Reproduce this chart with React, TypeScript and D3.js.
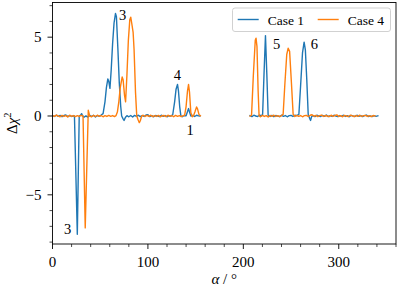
import React from 'react'
import * as d3 from 'd3'

const WIDTH = 399
const HEIGHT = 291
const PLOT = { left: 52.5, right: 396, top: 2.5, bottom: 244 }
const FONT = '"Liberation Serif", "Times New Roman", serif'
const BLUE = '#1f77b4'
const ORANGE = '#ff7f0e'

// [alpha in degrees, delta chi^2]; null marks the gap between the scans
const case1: [number, number | null][] = [
  [0, 0.02], [2, -0.03], [4, 0.05], [6, -0.02], [8, 0.04], [10, -0.05], [12, 0.03], [14, 0.06],
  [16, -0.04], [18, 0.02], [20, -0.03], [22, 0.01], [23, 0.0], [26, -7.5], [28, 0.0], [29.5, 0.05],
  [30.5, 0.15], [31.5, 0.02], [33, -0.08], [35, 0.01], [37, -0.07], [39, 0.04], [41, -0.03], [43, 0.05],
  [45, -0.06], [47, 0.03], [49, -0.02], [51, 0.06], [53, 0.15], [55, 0.9], [56.5, 1.8], [58, 2.35],
  [59, 2.2], [60.2, 1.75], [61.5, 2.9], [63, 4.6], [64.5, 5.9], [66, 6.5], [67, 6.3], [68.5, 4.3],
  [70, 2.1], [71.5, 0.6], [72.5, 0.0], [74, -0.18], [75, -0.28], [76.5, -0.08], [78, 0.02], [80, -0.05],
  [82, 0.03], [84, -0.06], [86, 0.04], [88, -0.02], [90, 0.05], [92, -0.04], [94, 0.02], [96, -0.03],
  [98, 0.06], [100, 0.08], [102, -0.04], [104, 0.02], [106, -0.05], [108, 0.03], [110, 0.0], [112, -0.04],
  [114, 0.05], [116, -0.02], [118, 0.03], [120, -0.05], [122, 0.02], [124, -0.01], [126, 0.08], [128, 0.9],
  [129.5, 1.7], [131, 2.0], [132, 1.6], [133.3, 0.6], [134.5, 0.02], [136, -0.05], [138, 0.03], [140, 0.02],
  [141.5, 0.28], [142.6, 0.47], [143.6, 0.25], [145, 0.0], [147, 0.04], [149, -0.03], [151, 0.05], [153, 0.01],
  [154.5, 0.0],
  [180, null],
  [207, 0.02], [209, -0.04], [211, 0.05], [213, 0.0], [215, -0.03], [217, 0.06], [219, 0.02], [220.2, 0.1],
  [221.7, 2.7], [223.2, 5.1], [224.6, 2.7], [226, 0.05], [228, -0.03], [230, 0.04], [232, -0.05], [234, 0.03],
  [236, 0.0], [238, -0.04], [240, 0.05], [242, -0.02], [244, 0.03], [246, -0.05], [248, 0.02], [250, 0.04],
  [252, -0.03], [254, 0.05], [256, 0.02], [258.2, 0.1], [260, 1.9], [262, 4.0], [263.7, 4.68], [265, 4.2],
  [266.5, 2.3], [268, 0.1], [269.5, -0.15], [270.5, -0.28], [271.5, -0.05], [273, 0.03], [275, -0.04], [277, 0.05],
  [279, 0.0], [281, -0.03], [283, 0.04], [285, -0.02], [287, 0.06], [289, -0.04], [291, 0.02], [293, -0.03],
  [295, 0.05], [297, 0.0], [299, -0.04], [301, 0.03], [303, -0.02], [305, 0.05], [307, -0.03], [309, 0.02],
  [311, -0.05], [313, 0.04], [315, 0.0], [317, -0.03], [319, 0.05], [321, -0.02], [323, 0.03], [325, -0.04],
  [327, 0.02], [329, 0.06], [331, -0.03], [333, 0.01], [335, -0.04], [337, 0.02], [339, -0.02], [341, 0.01],
]

const case4: [number, number | null][] = [
  [0, 0.03], [2, -0.02], [4, 0.06], [6, 0.0], [8, -0.05], [10, 0.04], [12, -0.03], [14, 0.02],
  [16, -0.06], [18, 0.05], [20, -0.02], [22, 0.03], [24, -0.04], [26, 0.02], [28, -0.03], [30, 0.04],
  [32, 0.0], [34.3, -7.1], [37.5, 0.36], [39, 0.0], [41, -0.05], [43, 0.04], [45, -0.03], [47, 0.05],
  [49, -0.02], [51, 0.03], [53, -0.05], [55, 0.02], [57, -0.03], [59, 0.04], [61, -0.02], [63, 0.03],
  [65, -0.04], [66.5, 0.02], [68, 0.25], [69.5, 0.9], [71, 1.8], [73, 2.47], [74, 2.3], [75.5, 1.3],
  [76.6, 0.9], [78, 2.6], [79.5, 4.8], [81, 6.1], [82, 6.27], [83, 5.9], [84.5, 5.3], [85.5, 4.2],
  [87, 1.5], [88.3, 0.0], [89.5, -0.2], [91, -0.42], [92, -0.3], [93.5, 0.0], [95, 0.05], [97, -0.03],
  [99, 0.04], [101, -0.02], [103, 0.05], [105, -0.04], [107, 0.02], [109, -0.03], [111, 0.04], [113, -0.05],
  [115, 0.02], [117, 0.03], [119, -0.04], [121, 0.05], [123, -0.02], [125, 0.03], [127, -0.05], [129, 0.04],
  [131, -0.02], [133, 0.03], [135, -0.04], [137, 0.02], [138.5, 0.05], [140, 0.6], [141.5, 1.6], [142.6, 2.0],
  [143.6, 1.5], [145, 0.2], [146.5, -0.05], [148, 0.05], [149.5, 0.3], [151, 0.57], [152, 0.45], [153.5, 0.1],
  [155, 0.02],
  [180, null],
  [207, 0.0], [208.6, 0.05], [210.5, 2.6], [212.5, 4.8], [213.3, 4.94], [214.3, 4.4], [215.5, 1.6], [216.5, 0.0],
  [218, -0.05], [220, 0.04], [222, -0.03], [224, 0.02], [226, -0.06], [228, 0.04], [230, -0.02], [232, 0.05],
  [234, -0.03], [236, 0.02], [238, -0.04], [240, 0.03], [241.7, 0.1], [243.5, 2.0], [245.5, 3.9], [247, 4.3],
  [248.5, 4.1], [250.5, 2.0], [252.2, 0.1], [254, -0.03], [256, 0.04], [258, -0.02], [260, 0.03], [262, -0.05],
  [264, 0.02], [266, 0.04], [268, -0.03], [270, 0.05], [272, 0.08], [274, -0.02], [276, 0.04], [278, -0.04],
  [280, 0.02], [282, 0.06], [284, -0.03], [286, 0.03], [288, 0.0], [290, -0.04], [292, 0.05], [294, -0.02],
  [296, 0.03], [298, 0.07], [300, -0.03], [302, 0.02], [304, -0.05], [306, 0.04], [308, 0.0], [310, -0.03],
  [312, 0.05], [314, 0.02], [316, -0.04], [318, 0.03], [320, -0.02], [322, 0.05], [324, -0.03], [326, 0.02],
  [328, 0.04], [330, -0.03], [332, 0.02], [334, -0.04], [336, 0.03], [338, 0.0],
]

const series = [
  { name: 'Case 1', color: BLUE, data: case1 },
  { name: 'Case 4', color: ORANGE, data: case4 },
]

// peak labels, anchored in data coordinates (left edge / baseline)
const peakLabels = [
  { text: '3', alpha: 69.6, value: 6.06 },
  { text: '3', alpha: 12, value: -7.49 },
  { text: '4', alpha: 127.2, value: 2.26 },
  { text: '1', alpha: 140.5, value: -1.22 },
  { text: '5', alpha: 231, value: 4.22 },
  { text: '6', alpha: 270.7, value: 4.22 },
]

const xTicks = [0, 100, 200, 300]
const yTicks = [-5, 0, 5]

const fmt = (v: number) => (v < 0 ? '\u2212' + Math.abs(v) : String(v))

export default function App() {
  const x = d3.scaleLinear().domain([0, 360]).range([PLOT.left, PLOT.right])
  const y = d3.scaleLinear().domain([-8.12, 7.2]).range([PLOT.bottom, PLOT.top])

  const line = d3.line<[number, number | null]>()
    .defined((d) => d[1] !== null)
    .x((d) => x(d[0]))
    .y((d) => y(d[1] as number))

  const xMinor = d3.range(0, 361, 20).filter((v) => !xTicks.includes(v))
  const yMinor = d3.range(-8, 8, 1).filter((v) => !yTicks.includes(v))

  return (
    <svg width={WIDTH} height={HEIGHT} style={{ position: 'absolute', left: 0, top: 0, background: '#fff' }}
      fontFamily={FONT}>
      <defs>
        <clipPath id="plot-clip">
          <rect x={PLOT.left} y={PLOT.top} width={PLOT.right - PLOT.left} height={PLOT.bottom - PLOT.top} />
        </clipPath>
      </defs>

      <g clipPath="url(#plot-clip)">
        {series.map((s) => (
          <path key={s.name} d={line(s.data) || ''} fill="none" stroke={s.color} strokeWidth={1.4}
            strokeLinejoin="round" strokeLinecap="square" />
        ))}
      </g>

      {peakLabels.map((p, i) => (
        <text key={i} x={x(p.alpha)} y={y(p.value)} fontSize={14.5} fill="#000">{p.text}</text>
      ))}

      {/* frame */}
      <rect x={PLOT.left} y={PLOT.top} width={PLOT.right - PLOT.left} height={PLOT.bottom - PLOT.top}
        fill="none" stroke="#000" strokeWidth={0.9} />

      {/* x ticks */}
      {xTicks.map((t) => (
        <g key={'x' + t}>
          <line x1={x(t)} x2={x(t)} y1={PLOT.bottom} y2={PLOT.bottom + 5} stroke="#000" strokeWidth={0.9} />
          <text x={x(t)} y={PLOT.bottom + 23} textAnchor="middle" fontSize={15}>{fmt(t)}</text>
        </g>
      ))}
      {xMinor.map((t) => (
        <line key={'xm' + t} x1={x(t)} x2={x(t)} y1={PLOT.bottom} y2={PLOT.bottom + 3} stroke="#000" strokeWidth={0.7} />
      ))}

      {/* y ticks */}
      {yTicks.map((t) => (
        <g key={'y' + t}>
          <line x1={PLOT.left - 5} x2={PLOT.left} y1={y(t)} y2={y(t)} stroke="#000" strokeWidth={0.9} />
          <text x={PLOT.left - 11} y={y(t)} dy="0.34em" textAnchor="end" fontSize={15}>{fmt(t)}</text>
        </g>
      ))}
      {yMinor.map((t) => (
        <line key={'ym' + t} x1={PLOT.left - 3} x2={PLOT.left} y1={y(t)} y2={y(t)} stroke="#000" strokeWidth={0.7} />
      ))}

      {/* axis labels */}
      <text x={(PLOT.left + PLOT.right) / 2} y={284} textAnchor="middle" fontSize={15}>
        <tspan fontStyle="italic">α</tspan>
        <tspan> / °</tspan>
      </text>
      <text transform={`translate(17, ${(PLOT.top + PLOT.bottom) / 2}) rotate(-90)`} textAnchor="middle" fontSize={15}>
        <tspan>Δ</tspan>
        <tspan fontStyle="italic">χ</tspan>
        <tspan fontSize={10.5} dy={-6}>2</tspan>
      </text>

      {/* legend */}
      <g>
        <rect x={232.5} y={8} width={158} height={23.5} rx={2.5} fill="#fff" fillOpacity={0.8}
          stroke="#cccccc" strokeWidth={0.9} />
        {series.map((s, i) => {
          const ox = 237.7 + i * 80
          return (
            <g key={s.name}>
              <line x1={ox} x2={ox + 21} y1={19.5} y2={19.5} stroke={s.color} strokeWidth={1.4} />
              <text x={ox + 30} y={24.5} fontSize={13.5}>{s.name}</text>
            </g>
          )
        })}
      </g>
    </svg>
  )
}
